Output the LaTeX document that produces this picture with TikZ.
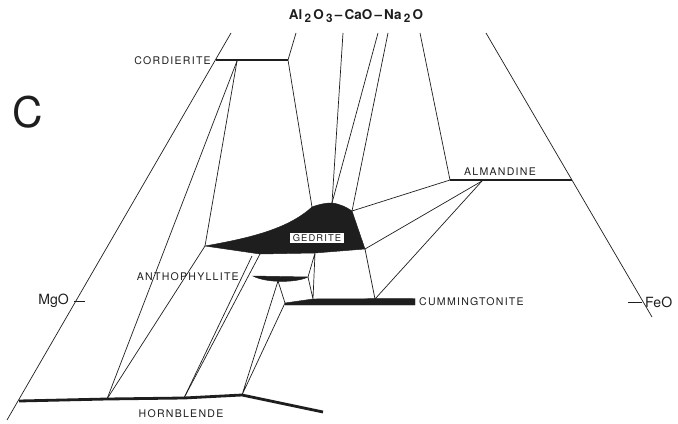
\documentclass[tikz,border=0pt]{standalone}
\usepackage{fontspec}
\setmainfont{TeX Gyre Heros}
\newfontfamily\labfont[LetterSpace=12]{TeX Gyre Heros}
\usetikzlibrary{calc}
\definecolor{inkgray}{RGB}{30,30,30}
\newcommand{\oxsub}[1]{\raisebox{-0.4ex}{\fontsize{10}{10}\selectfont #1}}
\tikzset{
  tie/.style={draw=inkgray,line width=0.6pt},
  phase/.style={draw=inkgray,line width=2pt},
  solid phase/.style={fill=inkgray,draw=inkgray,line width=0.4pt},
  lbl/.style={font=\labfont\fontsize{9}{9}\selectfont,inner sep=0pt,text=inkgray},
  oxd/.style={font=\fontsize{12}{12}\selectfont,inner sep=0pt,text=inkgray},
}

\begin{document}
\begin{tikzpicture}[x=0.03cm,y=-0.03cm]
  \useasboundingbox (0,0) rectangle (678,424);
  % outer sides and apex lines
  \coordinate (mgoTop) at (231,33);  \coordinate (mgoBot) at (7,420);
  \coordinate (feoTop) at (486,33);  \coordinate (feoBot) at (652,317);
  \coordinate (ap1) at (296,33); \coordinate (ap2) at (343,33);
  \coordinate (ap3) at (378,33); \coordinate (ap4) at (388,33);
  \coordinate (ap5) at (420,33);
  % phases
  \coordinate (crdL) at (216,60); \coordinate (crdR) at (288,60);
  \coordinate (crdP) at (237,61);
  \coordinate (gedTip) at (205,246); \coordinate (gedTL) at (312,207);
  \coordinate (gedTop) at (332,203); \coordinate (gedTR) at (352,211);
  \coordinate (gedBR) at (365,249); \coordinate (gedB) at (315,253);
  \coordinate (gedBa) at (252,256); \coordinate (gedBb) at (260,254);
  \coordinate (athL) at (253,276); \coordinate (athR) at (308,277);
  \coordinate (athLow) at (278,281);
  \coordinate (cumL) at (285,303); \coordinate (cumP) at (313,299);
  \coordinate (cumA) at (375,299); \coordinate (cumR) at (415,301);
  \coordinate (hbL) at (19,401); \coordinate (hb1) at (107,399);
  \coordinate (hb2) at (184,398); \coordinate (hbK) at (242,395);
  \coordinate (hbR) at (323,412);
  \coordinate (almL) at (450,180); \coordinate (almR) at (572,180);
  \coordinate (almP) at (482,181);

  \draw[tie] (mgoTop) -- (mgoBot);
  \draw[tie] (feoTop) -- (feoBot);
  \draw[tie] (ap1) -- (crdR) -- (gedTL);
  \draw[tie] (ap2) -- (gedTop);
  \draw[tie] (ap3) -- (gedTop);
  \draw[tie] (ap4) -- (gedTR);
  \draw[tie] (ap5) -- (almL);
  \draw[tie] (crdP) -- (hb1);
  \draw[tie] (crdP) -- (gedTip) -- (hb1);
  \draw[tie] (gedBa) -- (hb2);
  \draw[tie] (gedBb) -- (hb2);
  \draw[tie] (hbK) -- (athLow) -- (cumL) -- (hbK);
  \draw[tie] (gedB) -- (athR) -- (cumP) -- (gedB);
  \draw[tie] (gedBR) -- (cumA);
  \draw[tie] (almL) -- (gedTR);
  \draw[tie] (almP) -- (gedBR);
  \draw[tie] (almP) -- (cumA);

  % gedrite field
  \fill[solid phase] (gedTip) .. controls (250,238) and (288,229) .. (gedTL)
    .. controls (320,204) and (326,203) .. (gedTop)
    .. controls (340,204) and (346,207) .. (gedTR)
    -- (gedBR) -- (gedB) -- (260,254) -- cycle;
  % anthophyllite and cummingtonite
  \fill[solid phase] (athL) -- (athR) .. controls (296,283) and (266,283) .. cycle;
  \fill[solid phase] (cumL) -- (cumP) -- (415,298.5) -- (415,305) -- (285,305) -- cycle;
  \draw[phase] (crdL) -- (crdR);
  \draw[phase,line width=1.4pt] (almL) -- (almR);
  \draw[phase,line width=2.4pt,line join=round] (hbL) -- (hb1) -- (hb2) -- (hbK) -- (hbR);

  % ticks
  \coordinate (mgoT) at (74,301); \coordinate (feoT) at (642,302);
  \draw[tie] (mgoT) -- ++(11,0);
  \draw[tie] (feoT) -- ++(-14,0);

  % labels
  \node[oxd,font=\bfseries\fontsize{11.5}{11.5}\selectfont] (title) at (356,16)
    {Al\,\oxsub{2}\,O\,\oxsub{3}\,--\,CaO\,--\,Na\,\oxsub{2}\,O};
  \node[oxd,font=\fontsize{36}{36}\selectfont] (panel) at (28,112) {C};
  \node[oxd,anchor=east] (mgo) at (69,301) {MgO};
  \node[oxd,anchor=west] (feo) at (645,302) {FeO};
  \node[lbl,anchor=east] (crd) at (211,61) {CORDIERITE};
  \node[lbl,anchor=east] (ath) at (239,277) {ANTHOPHYLLITE};
  \node[lbl] (hbl) at (181,414) {HORNBLENDE};
  \node[lbl,anchor=west] (cum) at (419,302) {CUMMINGTONITE};
  \node[lbl] (alm) at (500,172) {ALMANDINE};
  \node[lbl,fill=white,inner xsep=2pt,inner ysep=1.5pt,
        font=\labfont\fontsize{8}{8}\selectfont] (ged) at (317,238) {GEDRITE};
\end{tikzpicture}
\end{document}
